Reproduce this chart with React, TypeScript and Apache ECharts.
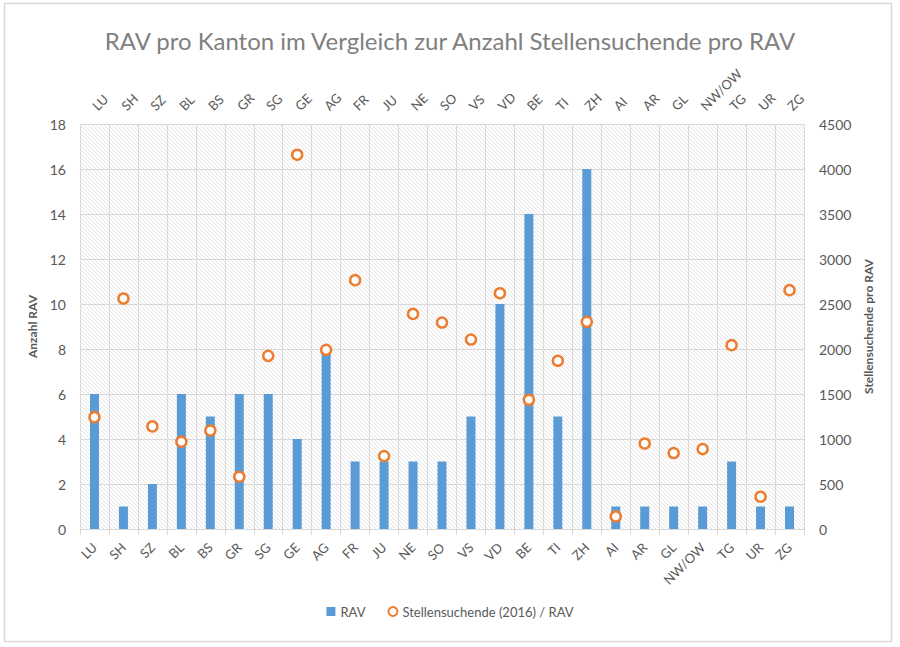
import React, { useEffect, useRef } from "react";
import * as echarts from "echarts";

const categories = ["LU","SH","SZ","BL","BS","GR","SG","GE","AG","FR","JU","NE","SO","VS","VD","BE","TI","ZH","AI","AR","GL","NW/OW","TG","UR","ZG"];
const ravCounts = [6,1,2,6,5,6,6,4,8,3,3,3,3,5,10,14,5,16,1,1,1,1,3,1,1];
const seekersPerRav = [1243,2561,1140,970,1095,581,1924,4159,1991,2765,810,2390,2294,2105,2620,1436,1869,2302,140,950,844,888,2043,359,2654];
const leftTicks = { min: 0, max: 18, interval: 2 };
const rightTicks = { min: 0, max: 4500, interval: 500 };

const GRID = { left: 80, right: 96, top: 124, bottom: 118 };
const W = 900;
const H = 647;
const FONT = "Lato";
const GREY = "#595959";
const LINE_GREY = "#d9d9d9";

function hatchLines(): any[] {
  const x0 = GRID.left, y0 = GRID.top, x1 = W - GRID.right, y1 = H - GRID.bottom;
  const h = y1 - y0;
  const out: any[] = [];
  for (let xs = x0 - h; xs < x1; xs += 4) {
    const sx = Math.max(xs, x0);
    const sy = y0 + (sx - xs);
    const t = Math.min(x1 - xs, h);
    const ex = xs + t;
    const ey = y0 + t;
    if (ex <= sx) continue;
    out.push({ type: "line", silent: true, shape: { x1: sx, y1: sy, x2: ex, y2: ey }, style: { stroke: "#e4e4e4", lineWidth: 1 } });
  }
  return out;
}

export default function App() {
  const ref = useRef<HTMLDivElement>(null);
  useEffect(() => {
    document.body.style.margin = "0";
    const chart = echarts.init(ref.current!, undefined, { renderer: "svg" });
    chart.setOption({
      animation: false,
      backgroundColor: "#ffffff",
      title: {
        text: "RAV pro Kanton im Vergleich zur Anzahl Stellensuchende pro RAV",
        left: "center",
        top: 23,
        textStyle: { fontFamily: FONT, fontSize: 24, fontWeight: "normal", color: "#808080" },
      },
      graphic: [
        { type: "group", z: -10, silent: true, children: hatchLines() },
        { type: "rect", shape: { x: 4.5, y: 3.5, width: 887, height: 638 }, style: { fill: "none", stroke: LINE_GREY, lineWidth: 1.5 }, silent: true },
      ],
      legend: {
        bottom: 24,
        left: "center",
        itemGap: 22,
        itemWidth: 9,
        itemHeight: 9,
        textStyle: { fontFamily: FONT, fontSize: 13, color: GREY },
        data: [
          { name: "RAV", icon: "rect" },
          { name: "Stellensuchende (2016) / RAV", icon: "circle" },
        ],
      },
      grid: { ...GRID, show: false },
      xAxis: [
        {
          type: "category",
          data: categories,
          position: "bottom",
          boundaryGap: true,
          axisLine: { show: true, lineStyle: { color: LINE_GREY, width: 1 } },
          axisTick: { show: true, interval: 0, length: 6, lineStyle: { color: LINE_GREY } },
          splitLine: { show: true, interval: 0, lineStyle: { color: LINE_GREY, width: 1 } },
          axisLabel: { show: true, rotate: 45, interval: 0, margin: 16, fontFamily: FONT, fontSize: 13, color: GREY },
        },
        {
          type: "category",
          data: categories,
          position: "top",
          boundaryGap: true,
          axisLine: { show: true, lineStyle: { color: LINE_GREY, width: 1 } },
          axisTick: { show: false },
          splitLine: { show: false },
          axisLabel: { show: true, rotate: 45, interval: 0, margin: 16, fontFamily: FONT, fontSize: 13, color: GREY },
        },
      ],
      yAxis: [
        {
          type: "value",
          ...leftTicks,
          position: "left",
          name: "Anzahl RAV",
          nameLocation: "middle",
          nameGap: 40,
          nameTextStyle: { fontFamily: FONT, fontSize: 12, fontWeight: "bold", color: GREY },
          axisLine: { show: false },
          axisTick: { show: false },
          splitLine: { show: true, lineStyle: { color: LINE_GREY, width: 1 } },
          axisLabel: { margin: 14, fontFamily: FONT, fontSize: 14, color: GREY },
        },
        {
          type: "value",
          ...rightTicks,
          position: "right",
          name: "Stellensuchende pro RAV",
          nameLocation: "middle",
          nameGap: 55,
          nameTextStyle: { fontFamily: FONT, fontSize: 12, fontWeight: "bold", color: GREY },
          axisLine: { show: false },
          axisTick: { show: false },
          splitLine: { show: false },
          axisLabel: { margin: 15, fontFamily: FONT, fontSize: 14, color: GREY, formatter: (v: number) => String(v) },
        },
      ],
      series: [
        {
          name: "RAV",
          type: "bar",
          xAxisIndex: 0,
          yAxisIndex: 0,
          data: ravCounts,
          barWidth: 9,
          itemStyle: { color: "#5b9bd5" },
        },
        {
          name: "Stellensuchende (2016) / RAV",
          type: "scatter",
          xAxisIndex: 0,
          yAxisIndex: 1,
          data: seekersPerRav,
          symbol: "circle",
          symbolSize: 10,
          itemStyle: { color: "#ffffff", borderColor: "#ed7d31", borderWidth: 2.5, opacity: 1 },
        },
      ],
    });
    return () => chart.dispose();
  }, []);
  return <div ref={ref} style={{ position: "fixed", left: 0, top: 0, width: W, height: H }} />;
}
